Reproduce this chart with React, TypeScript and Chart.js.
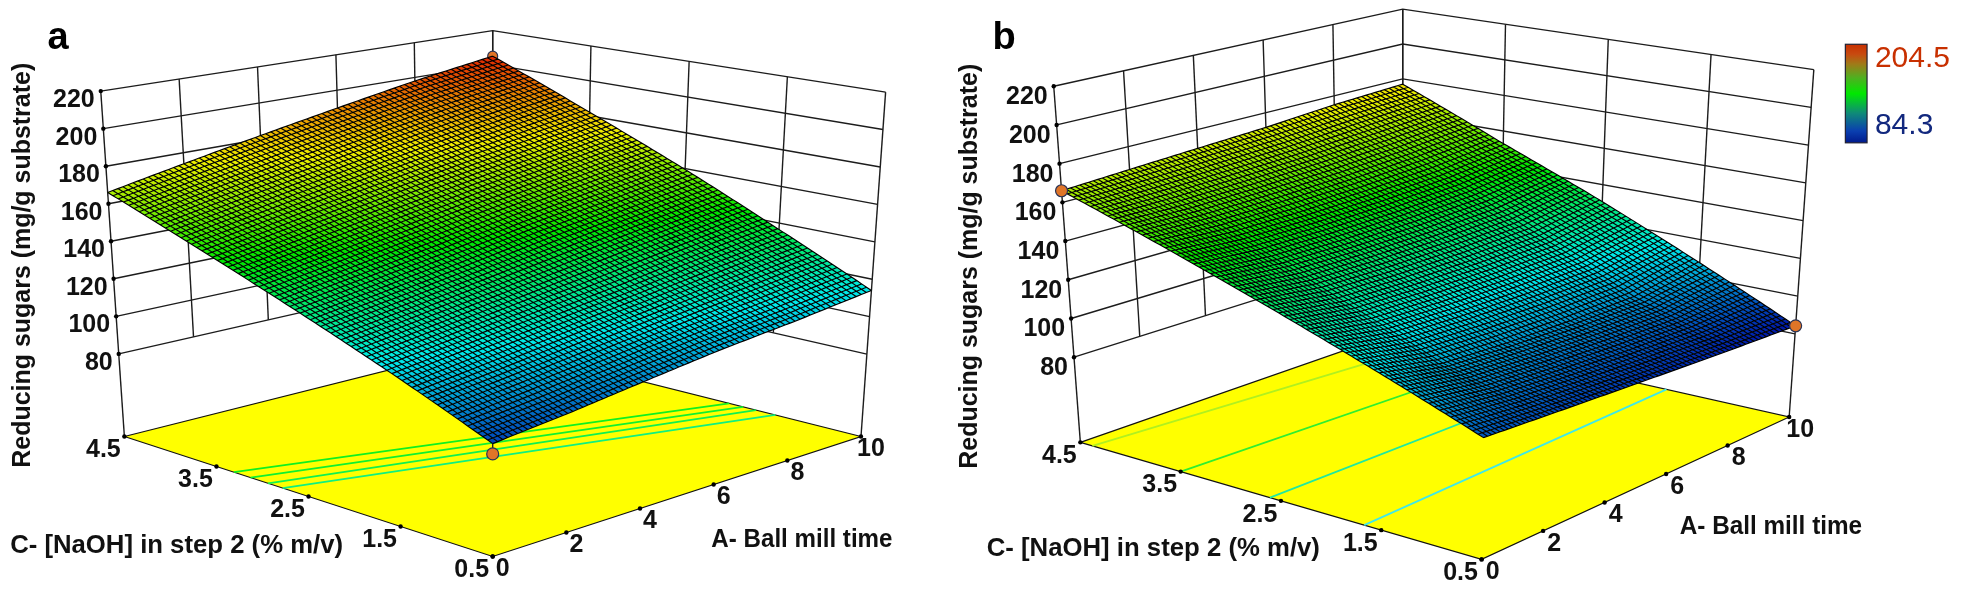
import React, { useEffect, useRef } from "react";
import { Chart, registerables } from "chart.js";

Chart.register(...registerables);

// ---------- values ----------
const A_TICKS = [0, 2, 4, 6, 8, 10];
const C_TICKS = [4.5, 3.5, 2.5, 1.5, 0.5];
const Z_TICKS = [80, 100, 120, 140, 160, 180, 200, 220];
const Z_FLOOR = 36;
const LEGEND_MAX = 204.5;
const LEGEND_MIN = 84.3;

// response at each C tick (rows) and A tick (columns)
const SURFACE_A = [
  [166, 174, 182, 190, 198, 205],
  [147, 154, 161, 168, 175, 182],
  [128.5, 134, 140, 147, 153, 159.5],
  [110, 115, 120, 125, 131, 136.5],
  [91, 95, 100, 105, 109, 114],
];
const SURFACE_B = [
  [166, 168, 170, 172, 175, 177],
  [148, 146, 146, 147, 149, 153],
  [130, 125, 124, 124, 125, 130.7],
  [112, 105, 103, 102, 102, 107.5],
  [94, 92, 90, 88, 86, 84.3],
];
// floor contours: C at A=0 and C at A=10
const CONTOUR_A_START = [3.31, 3.13, 2.94, 2.78];
const CONTOUR_A_END = [1.93, 1.78, 1.64, 1.43];
const CONTOUR_B_START = [4.38, 3.5, 2.61, 1.67];
const CONTOUR_B_END = [4.06, 3.32, 2.55, 1.77];
// design points: [A, C, response]
const DESIGN_A = [[0, 0.5, 86]];
const DESIGN_A_HIDDEN = [[10, 4.5, 205]];
const DESIGN_B = [[0, 4.5, 166], [10, 0.5, 84.3]];

// ---------- styles and layout ----------
const MESH = 75;
const COLOR_STOPS: [number, number[]][] = [
  [0, [0, 20, 170]],
  [0.25, [0, 235, 235]],
  [0.5, [0, 230, 0]],
  [0.75, [240, 240, 0]],
  [1, [225, 40, 0]],
];
const LEGEND_STOPS: [number, string][] = [
  [0, "#001a8c"], [0.12, "#0a3fb0"], [0.3, "#0f8a78"], [0.5, "#00e800"],
  [0.66, "#4fb020"], [0.8, "#a07a18"], [0.9, "#c84a10"], [1, "#c83000"],
];
const CONTOUR_COLORS_A = ["#10f020", "#10f030", "#10f050", "#10f080"];
const CONTOUR_COLORS_B = ["#b0f020", "#30ee30", "#20e8a0", "#40e8e8"];
const FONT = '"Liberation Sans", Arial, sans-serif';
const LINE = "#1c1c1c";

type Pt = { x: number; y: number };
const P = (x: number, y: number): Pt => ({ x, y });

const PANEL_A = {
  left: 0, width: 945, letter: "a", letterAt: P(41, 43),
  floor: { L: P(119, 440), B: P(493, 345), F: P(493, 563), R: P(867, 440) },
  top: { L: P(95, 86), B: P(493, 24), F: P(493, 176), R: P(892, 87) },
  surface: SURFACE_A, cStart: CONTOUR_A_START, cEnd: CONTOUR_A_END,
  cColors: CONTOUR_COLORS_A, design: DESIGN_A, hidden: DESIGN_A_HIDDEN, stem: true,
  zOff: P(-6, 9), cOff: P(-21, 14), aOff: P(10, 13),
  yTitle: { x: 16, y0: 472, y1: 57 },
  cTitle: { x0: 3, x1: 341, y: 552 },
  aTitle: { x0: 715, x1: 899, y: 546 },
  legend: false,
};
const PANEL_B = {
  left: 945, width: 1016, letter: "b", letterAt: P(986, 43),
  floor: { L: P(1075, 446), B: P(1402, 331), F: P(1482, 566), R: P(1794, 420) },
  top: { L: P(1048, 81), B: P(1402, 2), F: P(1488, 170), R: P(1819, 64) },
  surface: SURFACE_B, cStart: CONTOUR_B_START, cEnd: CONTOUR_B_END,
  cColors: CONTOUR_COLORS_B, design: DESIGN_B, hidden: [], stem: false,
  zOff: P(-6, 11), cOff: P(-21, 14), aOff: P(11, 13),
  yTitle: { x: 963, y0: 473, y1: 58 },
  cTitle: { x0: 980, x1: 1318, y: 555 },
  aTitle: { x0: 1683, x1: 1868, y: 533 },
  legend: true,
};

// ---------- projection of the three axes onto the chart's x/y scales ----------
const mix = (a: number, b: number, t: number) => a + (b - a) * t;
function project(p: any, A: number, C: number, z: number): Pt {
  const u = A / 10, v = (4.5 - C) / 4, w = (z - Z_FLOOR) / (220 - Z_FLOOR);
  const bi = (q: any, k: "x" | "y") =>
    mix(mix(q.L[k], q.B[k], u), mix(q.F[k], q.R[k], u), v);
  return {
    x: mix(bi(p.floor, "x"), bi(p.top, "x"), w),
    y: mix(bi(p.floor, "y"), bi(p.top, "y"), w),
  };
}
function surfaceZ(table: number[][], u: number, v: number) {
  const cols = table[0].length - 1, rows = table.length - 1;
  const ci = Math.min(Math.floor(u * cols), cols - 1), ri = Math.min(Math.floor(v * rows), rows - 1);
  const fu = u * cols - ci, fv = v * rows - ri;
  return mix(mix(table[ri][ci], table[ri][ci + 1], fu), mix(table[ri + 1][ci], table[ri + 1][ci + 1], fu), fv);
}
function colorOf(z: number) {
  const t = Math.max(0, Math.min(1, (z - LEGEND_MIN) / (LEGEND_MAX - LEGEND_MIN)));
  for (let i = 1; i < COLOR_STOPS.length; i++) {
    if (t <= COLOR_STOPS[i][0]) {
      const [t0, c0] = COLOR_STOPS[i - 1], [t1, c1] = COLOR_STOPS[i];
      const f = (t - t0) / (t1 - t0);
      return `rgb(${mix(c0[0], c1[0], f) | 0},${mix(c0[1], c1[1], f) | 0},${mix(c0[2], c1[2], f) | 0})`;
    }
  }
  return "rgb(225,40,0)";
}

function buildDatasets(p: any) {
  const line = (data: Pt[], color = LINE, width = 1.4) => ({
    type: "scatter", data, showLine: true, borderColor: color, borderWidth: width,
    pointRadius: 0, fill: false, tension: 0,
  });
  const dots = (rows: number[][]) => ({
    type: "scatter", data: rows.map(([A, C, z]) => project(p, A, C, z)),
    pointRadius: 6, backgroundColor: "#e07528", borderColor: "#2a3355", borderWidth: 1.2,
  });
  const sets: any[] = [];
  // walls
  for (const z of Z_TICKS) {
    sets.push(line([project(p, 0, 4.5, z), project(p, 10, 4.5, z), project(p, 10, 0.5, z)]));
  }
  for (const A of A_TICKS) {
    const zLow = A === 0 || A === 10 ? Z_FLOOR : 80;
    sets.push(line([project(p, A, 4.5, zLow), project(p, A, 4.5, 220)]));
  }
  for (const C of C_TICKS) {
    const zLow = C === 0.5 ? Z_FLOOR : 80;
    sets.push(line([project(p, 10, C, zLow), project(p, 10, C, 220)]));
  }
  // floor
  const corners = [[0, 4.5], [10, 4.5], [10, 0.5], [0, 0.5], [0, 4.5]];
  sets.push({
    ...line(corners.map(([A, C]) => project(p, A, C, Z_FLOOR)), "#111", 1.2),
    fill: "shape", backgroundColor: "#ffff00",
  });
  // contours
  p.cStart.forEach((c0: number, i: number) => {
    const pts = [project(p, 0, c0, Z_FLOOR), project(p, 10, p.cEnd[i], Z_FLOOR)];
    sets.push(line(pts, p.cColors[i], 1.8));
  });
  // ticks on the axes
  const ticks = [
    ...Z_TICKS.map((z) => project(p, 0, 4.5, z)),
    ...A_TICKS.map((A) => project(p, A, 0.5, Z_FLOOR)),
    ...C_TICKS.map((C) => project(p, 0, C, Z_FLOOR)),
  ];
  sets.push({ type: "scatter", data: ticks, pointRadius: 2.2, backgroundColor: "#000", borderWidth: 0 });
  // design points lying under the surface
  if (p.hidden.length) sets.push({ ...dots(p.hidden), pointRadius: 5 });
  // surface mesh nodes
  const mesh: any[] = [];
  for (let j = 0; j <= MESH; j++) {
    for (let i = 0; i <= MESH; i++) {
      const u = i / MESH, v = j / MESH;
      const z = surfaceZ(p.surface, u, v);
      const q = project(p, u * 10, 4.5 - v * 4, z);
      mesh.push({ x: q.x, y: q.y, z });
    }
  }
  sets.push({ type: "scatter", label: "surface", data: mesh, pointRadius: 0 });
  // stem from surface to design point
  if (p.stem) {
    const [A, C, z] = p.design[0];
    const zs = surfaceZ(p.surface, A / 10, (4.5 - C) / 4);
    sets.push(line([project(p, A, C, zs), project(p, A, C, z)], "#222", 1.4));
  }
  // design points
  sets.push(dots(p.design));
  sets.forEach((s, i) => { s.order = -i; s.clip = false; });
  return sets;
}

const meshPlugin = {
  id: "surfaceMesh",
  afterDatasetDraw(chart: any, args: any) {
    const ds = chart.data.datasets[args.index];
    if (ds.label !== "surface") return;
    const pts = args.meta.data, n = MESH + 1, ctx = chart.ctx;
    ctx.save();
    for (let j = 0; j < MESH; j++) {
      for (let i = 0; i < MESH; i++) {
        const a = pts[j * n + i], b = pts[j * n + i + 1], c = pts[(j + 1) * n + i + 1], d = pts[(j + 1) * n + i];
        const z = (ds.data[j * n + i].z + ds.data[(j + 1) * n + i + 1].z) / 2;
        ctx.fillStyle = colorOf(z);
        ctx.beginPath();
        ctx.moveTo(a.x, a.y); ctx.lineTo(b.x, b.y); ctx.lineTo(c.x, c.y); ctx.lineTo(d.x, d.y);
        ctx.closePath();
        ctx.fill();
      }
    }
    ctx.strokeStyle = "#000";
    ctx.lineWidth = 1.15;
    ctx.beginPath();
    for (let j = 0; j <= MESH; j++) {
      for (let i = 0; i <= MESH; i++) {
        const q = pts[j * n + i];
        if (i === 0) ctx.moveTo(q.x, q.y); else ctx.lineTo(q.x, q.y);
      }
    }
    for (let i = 0; i <= MESH; i++) {
      for (let j = 0; j <= MESH; j++) {
        const q = pts[j * n + i];
        if (j === 0) ctx.moveTo(q.x, q.y); else ctx.lineTo(q.x, q.y);
      }
    }
    ctx.stroke();
    ctx.restore();
  },
};

function fitted(ctx: any, text: string, x0: number, x1: number, y: number, size: number) {
  ctx.save();
  ctx.font = `bold ${size}px ${FONT}`;
  ctx.textAlign = "left";
  ctx.textBaseline = "middle";
  const w = ctx.measureText(text).width;
  ctx.translate(x0, y);
  ctx.scale((x1 - x0) / w, 1);
  ctx.fillText(text, 0, 0);
  ctx.restore();
}

function textPlugin(p: any) {
  return {
    id: "panelText",
    afterDraw(chart: any) {
      const ctx = chart.ctx, sx = chart.scales.x, sy = chart.scales.y;
      const X = (v: number) => sx.getPixelForValue(v), Y = (v: number) => sy.getPixelForValue(v);
      ctx.save();
      ctx.fillStyle = "#111";
      ctx.textBaseline = "middle";
      ctx.font = `bold 25px ${FONT}`;
      ctx.textAlign = "right";
      for (const z of Z_TICKS) {
        const q = project(p, 0, 4.5, z);
        ctx.fillText(String(z), X(q.x) + p.zOff.x, Y(q.y) + p.zOff.y);
      }
      ctx.textAlign = "center";
      for (const C of C_TICKS) {
        const q = project(p, 0, C, Z_FLOOR);
        ctx.fillText(C.toFixed(1), X(q.x) + p.cOff.x, Y(q.y) + p.cOff.y);
      }
      for (const A of A_TICKS) {
        const q = project(p, A, 0.5, Z_FLOOR);
        ctx.fillText(String(A), X(q.x) + p.aOff.x, Y(q.y) + p.aOff.y);
      }
      fitted(ctx, "C- [NaOH] in step 2 (% m/v)", X(p.cTitle.x0), X(p.cTitle.x1), Y(p.cTitle.y), 25);
      fitted(ctx, "A- Ball mill time", X(p.aTitle.x0), X(p.aTitle.x1), Y(p.aTitle.y), 25);
      ctx.save();
      ctx.translate(X(p.yTitle.x), Y(p.yTitle.y0));
      ctx.rotate(-Math.PI / 2);
      fitted(ctx, "Reducing sugars (mg/g substrate)", 0, Y(p.yTitle.y0) - Y(p.yTitle.y1), 0, 25);
      ctx.restore();
      ctx.font = `bold 38px ${FONT}`;
      ctx.textAlign = "left";
      ctx.textBaseline = "alphabetic";
      ctx.fillStyle = "#000";
      ctx.fillText(p.letter, X(p.letterAt.x), Y(p.letterAt.y));
      if (p.legend) {
        const x0 = X(1851), x1 = X(1873), y0 = Y(38), y1 = Y(139);
        const g = ctx.createLinearGradient(0, y1, 0, y0);
        LEGEND_STOPS.forEach(([t, c]) => g.addColorStop(t, c));
        ctx.fillStyle = g;
        ctx.fillRect(x0, y0, x1 - x0, y1 - y0);
        ctx.strokeStyle = "#223";
        ctx.lineWidth = 1.2;
        ctx.strokeRect(x0, y0, x1 - x0, y1 - y0);
        ctx.font = `30px ${FONT}`;
        ctx.textBaseline = "middle";
        ctx.fillStyle = "#c83000";
        ctx.fillText(LEGEND_MAX.toFixed(1), X(1881), Y(53));
        ctx.fillStyle = "#12287e";
        ctx.fillText(LEGEND_MIN.toFixed(1), X(1881), Y(121));
      }
      ctx.restore();
    },
  };
}

function Panel({ p }: { p: any }) {
  const ref = useRef<HTMLCanvasElement>(null);
  useEffect(() => {
    const chart = new Chart(ref.current as any, {
      type: "scatter",
      data: { datasets: buildDatasets(p) },
      options: {
        animation: false, responsive: false, devicePixelRatio: 1,
        layout: { padding: 0 },
        plugins: { legend: { display: false }, tooltip: { enabled: false }, title: { display: false } },
        scales: {
          x: { type: "linear", display: false, min: p.left, max: p.left + p.width },
          y: { type: "linear", display: false, min: 0, max: 591, reverse: true },
        },
      } as any,
      plugins: [meshPlugin, textPlugin(p)],
    } as any);
    return () => chart.destroy();
  }, [p]);
  return (
    <canvas
      ref={ref}
      width={p.width}
      height={591}
      style={{ position: "absolute", left: p.left, top: 0, width: p.width, height: 591, display: "block", filter: "blur(0.4px)" }}
    />
  );
}

export default function App() {
  useEffect(() => {
    document.body.style.margin = "0";
    document.body.style.overflow = "hidden";
  }, []);
  return (
    <div style={{ position: "relative", width: 1961, height: 591, background: "#fff", overflow: "hidden" }}>
      <Panel p={PANEL_A} />
      <Panel p={PANEL_B} />
    </div>
  );
}
